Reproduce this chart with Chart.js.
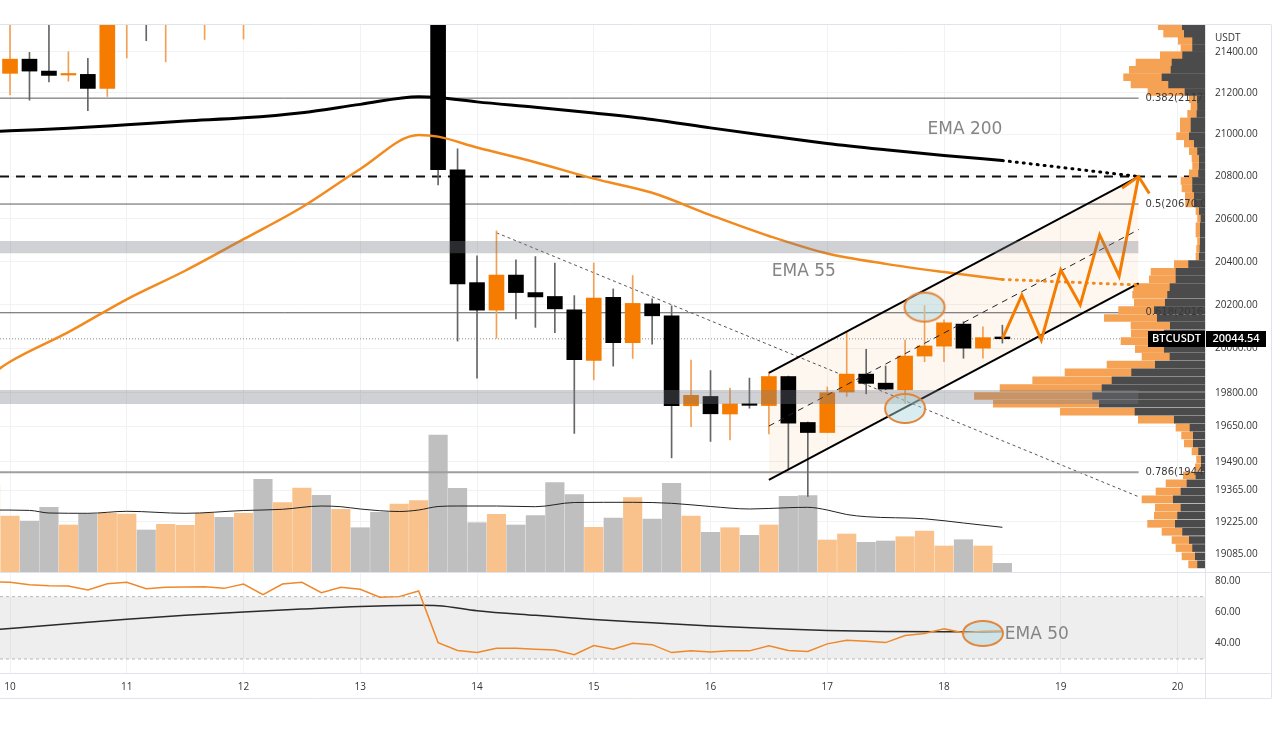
<!DOCTYPE html>
<html>
<head>
<meta charset="utf-8">
<title>BTCUSDT 4h</title>
<script src="https://cdn.jsdelivr.net/npm/chart.js@4.4.1/dist/chart.umd.min.js"></script>
<style>
  html, body { margin: 0; padding: 0; background: #fff; }
  #wrap { position: relative; width: 1280px; height: 732px; }
</style>
</head>
<body>
<div id="wrap"><canvas id="chart" width="1280" height="732"></canvas></div>
<script>
// x is in hours counted from day 10, 00:00 (4h candles)
const dayTicks = [0, 24, 48, 72, 96, 120, 144, 168, 192, 216, 240];
const dayLabels = ['10', '11', '12', '13', '14', '15', '16', '17', '18', '19', '20'];
const priceTicks = [21400, 21200, 21000, 20800, 20600, 20400, 20200, 20000, 19800, 19650, 19490, 19365, 19225, 19085];
const rsiTicks = [40, 60, 80];

const candleHours = [-4, 0, 4, 8, 12, 16, 20, 24, 28, 32, 36, 40, 44, 48, 52, 56, 60, 64, 68, 72, 76, 80, 84, 88,
  92, 96, 100, 104, 108, 112, 116, 120, 124, 128, 132, 136, 140, 144, 148, 152, 156, 160, 164, 168, 172, 176,
  180, 184, 188, 192, 196, 200, 204];
const opens = [21200, 21295, 21364, 21306, 21287, 21290, 21222, 21680, 21760, 21600, 21700, 21780, 21840, 21720,
  21860, 21640, 21820, 21990, 21760, 21900, 21820, 21700, 21840, 21920, 20832, 20303, 20176, 20338, 20257, 20239,
  20177, 19946, 20235, 20027, 20205, 20150, 19741, 19783, 19704, 19750, 19742, 19873, 19666, 19621, 19803, 19884,
  19843, 19813, 19966, 20011, 20112, 20002, 20053];
const highs = [21350, 21560, 21397, 21560, 21400, 21368, 21720, 21850, 21800, 21760, 21820, 21900, 21880, 21900,
  21900, 21880, 22050, 22020, 21950, 21940, 21850, 21880, 21960, 21950, 20932, 20427, 20544, 20409, 20424, 20394,
  20243, 20394, 20274, 20336, 20228, 20196, 19948, 19900, 19821, 19866, 19893, 19875, 19668, 19826, 20073, 19997,
  19921, 20039, 20197, 20131, 20123, 20099, 20107];
const lows = [21150, 21190, 21165, 21254, 21257, 21115, 21183, 21370, 21454, 21351, 21580, 21460, 21600, 21462,
  21560, 21600, 21780, 21700, 21720, 21780, 21640, 21660, 21800, 20760, 20034, 19866, 20047, 20136, 20097, 20073,
  19617, 19858, 19920, 19955, 20020, 19508, 19647, 19581, 19588, 19730, 19615, 19455, 19337, 19621, 19783, 19795,
  19813, 19753, 19940, 19940, 19956, 19956, 20025];
const closes = [21295, 21364, 21306, 21285, 21292, 21222, 21680, 21760, 21600, 21700, 21780, 21840, 21720, 21860,
  21640, 21820, 21990, 21760, 21900, 21820, 21700, 21840, 21920, 20832, 20297, 20176, 20338, 20257, 20237, 20182,
  19949, 20232, 20027, 20207, 20150, 19741, 19788, 19705, 19749, 19743, 19873, 19663, 19621, 19800, 19884, 19842,
  19816, 19966, 20012, 20118, 20002, 20050, 20045];
const volumes = [8700, 5600, 5100, 6470, 4700, 5770, 5870, 5800, 4200, 4770, 4670, 5870, 5470, 5870, 9270, 6930,
  8400, 7670, 6270, 4430, 5970, 6800, 7130, 13700, 8370, 4930, 5770, 4700, 5630, 8930, 7730, 4470, 5400, 7430,
  5300, 8870, 5600, 3970, 4430, 3670, 4700, 7570, 7630, 3200, 3800, 2970, 3100, 3530, 4100, 2600, 3230, 2600, 870];
const rsi = [79.5, 79.2, 77.6, 77.0, 76.8, 74.2, 78.3, 79.2, 75.1, 76.0, 76.2, 76.4, 75.3, 78.1, 71.2, 78.1, 79.2,
  72.5, 76.0, 74.7, 69.6, 70.0, 73.6, 40.5, 35.4, 34.1, 36.9, 36.9, 36.3, 35.8, 32.8, 38.6, 36.3, 40.1, 39.2, 34.1,
  35.2, 34.4, 35.2, 35.2, 38.4, 35.4, 34.8, 39.7, 42.0, 41.4, 40.5, 45.0, 46.3, 49.3, 46.9, 47.8, 47.8];

const volMaHours = [-4, 4, 8, 16, 24, 36, 48, 56, 64, 68, 72, 80, 84, 88, 92, 100, 108, 116, 128, 136, 144, 152,
  160, 164, 168, 172, 176, 188, 196, 204];
const volMa = [6200, 6160, 5900, 5870, 6070, 5870, 6150, 6270, 6600, 6530, 6300, 6050, 6200, 6550, 6600, 6600,
  6530, 6950, 6970, 6870, 6550, 6300, 6430, 6470, 6200, 5750, 5530, 5320, 4900, 4470];

const emaHours = [-4, 0, 12, 24, 36, 48, 60, 72, 84, 88, 96, 108, 120, 132, 144, 156, 168, 180, 192, 204];
const ema200 = [21013, 21018, 21030, 21047, 21065, 21080, 21105, 21145, 21182, 21178, 21157, 21131, 21103, 21072,
  21032, 20994, 20957, 20927, 20900, 20876];
const ema55 = [19880, 19940, 20075, 20226, 20358, 20505, 20655, 20836, 20998, 20990, 20938, 20868, 20790, 20723,
  20618, 20520, 20438, 20390, 20352, 20318];
const rsiEmaHours = [-4, 12, 24, 36, 48, 60, 72, 84, 88, 96, 108, 120, 132, 144, 156, 168, 180, 192, 204];
const rsiEma = [48.6, 52.6, 55.5, 58.0, 60.2, 62.0, 63.6, 64.4, 64.2, 61.0, 58.0, 55.3, 53.2, 51.2, 49.6, 48.3,
  47.6, 47.4, 47.6];

// drawings
const extHours = [204, 232];
const ema200Ext = [20876, 20800];
const ema55Ext = [20318, 20292];
const fibLevels = ['0.382', '0.5', '0.618', '0.786'];
const fibPrices = [21175, 20670, 20164, 19444];
const zoneTops = [20496, 19812];
const zoneBottoms = [20439, 19749];
const keyLevel = 20800;
const lastPrice = 20044.54;
const channelHours = [156, 232];
const channelUpper = [19890, 20800];
const channelMid = [19650, 20550];
const channelLower = [19410, 20299];
const trendHours = [100, 232];
const trendPrices = [20535, 19336];
const pathHours = [204, 208, 212, 216, 220, 224, 228, 232];
const pathPrices = [20045, 20245, 20039, 20362, 20200, 20525, 20333, 20800];
const arrowHours = [228.6, 232, 234.2];
const arrowPrices = [20745, 20800, 20720];
const markHours = [188, 184];
const markPrices = [20190, 19729];
const rsiMarkHour = 200;
const rsiMarkValue = 46.4;
const noteTexts = ['EMA 200', 'EMA 55', 'EMA 50'];
const noteHours = [188.6, 156.6, 204.5];
const noteValues = [21022, 20353, 45.4];
const noteAxes = ['y', 'y', 'yRsi'];

// visible range volume profile (rows of price), up / down volume
const profPrices = [19040, 19075, 19111, 19146, 19182, 19217, 19253, 19288, 19324, 19359, 19395, 19430, 19466,
  19501, 19537, 19572, 19608, 19643, 19679, 19714, 19750, 19785, 19821, 19856, 19892, 19927, 19963, 19998, 20034,
  20069, 20105, 20140, 20176, 20211, 20247, 20282, 20318, 20353, 20389, 20424, 20460, 20495, 20531, 20566, 20602,
  20637, 20673, 20708, 20744, 20779, 20815, 20850, 20886, 20921, 20957, 20992, 21028, 21063, 21099, 21134, 21170,
  21205, 21241, 21276, 21312, 21347, 21383, 21418, 21454, 21489, 21525];
const profDown = [74, 97, 124, 157, 224, 297, 274, 240, 317, 240, 180, 90, 37, 37, 64, 117, 117, 150, 307, 700,
  1057, 1124, 1030, 930, 734, 497, 350, 407, 457, 407, 347, 477, 507, 397, 374, 350, 290, 290, 164, 57, 50, 47, 47,
  47, 40, 57, 107, 107, 124, 124, 64, 57, 57, 74, 107, 157, 140, 140, 80, 74, 77, 200, 364, 430, 340, 330, 224, 124,
  124, 207, 227];
const profUp = [90, 133, 166, 173, 206, 277, 233, 257, 313, 250, 210, 127, 60, 47, 66, 90, 117, 140, 360, 747,
  1060, 1183, 1020, 794, 666, 483, 280, 290, 383, 330, 393, 530, 357, 310, 350, 364, 267, 250, 143, 33, 34, 27, 43,
  43, 34, 33, 87, 90, 106, 116, 93, 67, 73, 83, 100, 127, 107, 107, 94, 66, 80, 370, 376, 384, 417, 360, 223, 116,
  143, 207, 240];

// axis limits
const xMin = -2.06, xMax = 245.65;
const priceMin = 19007, priceMax = 21531;
const rsiMin = 21, rsiMax = 85.8;
const volMin = -10100, volMax = 54700;
const profMax = 12055;

const ORANGE = '#f57c00';
const isUp = closes.map((c, i) => c >= opens[i]);
const pts = (xs, ys) => xs.map((x, i) => ({ x, y: ys[i] }));
const flat = (v) => [{ x: xMin, y: v }, { x: xMax, y: v }];

function ellipseImage(rx, ry) {
  const c = document.createElement('canvas');
  c.width = rx * 2 + 4;
  c.height = ry * 2 + 4;
  const g = c.getContext('2d');
  g.beginPath();
  g.ellipse(c.width / 2, c.height / 2, rx, ry, 0, 0, Math.PI * 2);
  g.fillStyle = 'rgba(170, 214, 222, 0.45)';
  g.fill();
  g.lineWidth = 2;
  g.strokeStyle = '#e0853a';
  g.stroke();
  return c;
}

const line = (data, extra) => Object.assign({ type: 'line', data, pointRadius: 0, borderWidth: 1, fill: false }, extra);

const datasets = [
  // RSI band 70 / 30
  line(flat(70), { yAxisID: 'yRsi', borderColor: '#b5b8c0', borderDash: [3, 3], order: 12 }),
  line(flat(30), { yAxisID: 'yRsi', borderColor: '#b5b8c0', borderDash: [3, 3], order: 12,
    fill: '-1', backgroundColor: 'rgba(120, 123, 134, 0.13)' }),
  // channel fill
  line(pts(channelHours, channelUpper), { borderWidth: 0, order: 11 }),
  line(pts(channelHours, channelLower), { borderWidth: 0, order: 11, fill: '-1', backgroundColor: 'rgba(245, 124, 0, 0.06)' }),
  // volume
  {
    type: 'bar', yAxisID: 'yVol', grouped: false, barThickness: 18.5, order: 10,
    data: pts(candleHours, volumes),
    backgroundColor: isUp.map(u => u ? '#f9c28c' : '#bfbfbf')
  },
  line(pts(volMaHours, volMa), { yAxisID: 'yVol', borderColor: '#222', cubicInterpolationMode: 'monotone', order: 9 }),
  // fibonacci levels, key level, last price, trend line
  ...fibPrices.map((p, i) => line(pts([xMin, 232], [p, p]), {
    borderColor: i === 3 ? '#9e9e9e' : '#5c5c5c', borderWidth: i === 3 ? 2 : 1, order: 8
  })),
  line(flat(keyLevel), { borderColor: '#111', borderWidth: 2, borderDash: [9, 7], order: 8 }),
  line(flat(lastPrice), { borderColor: '#8a8a8a', borderDash: [1, 2], order: 8 }),
  line(pts(trendHours, trendPrices), { borderColor: '#555', borderDash: [3, 3], order: 8 }),
  // candles
  {
    type: 'bar', grouped: false, barThickness: 1, order: 7,
    data: candleHours.map((h, i) => ({ x: h, y: [lows[i], highs[i]] })),
    backgroundColor: isUp.map(u => u ? '#f2a055' : '#666')
  },
  {
    type: 'bar', grouped: false, barThickness: 15, minBarLength: 1.5, order: 6,
    data: candleHours.map((h, i) => ({ x: h, y: [opens[i], closes[i]] })),
    backgroundColor: isUp.map(u => u ? ORANGE : '#000')
  },
  // volume profile
  {
    type: 'bar', indexAxis: 'y', xAxisID: 'xProf', yAxisID: 'y', grouped: false, barThickness: 7, order: 5,
    data: profPrices.map((p, i) => ({ y: p, x: [0, profDown[i]] })),
    backgroundColor: '#4b4b4b'
  },
  {
    type: 'bar', indexAxis: 'y', xAxisID: 'xProf', yAxisID: 'y', grouped: false, barThickness: 7, order: 5,
    data: profPrices.map((p, i) => ({ y: p, x: [profDown[i], profDown[i] + profUp[i]] })),
    backgroundColor: '#f5a254'
  },
  // EMAs
  line(pts(emaHours, ema200), { borderColor: '#000', borderWidth: 3, cubicInterpolationMode: 'monotone', order: 4 }),
  line(pts(emaHours, ema55), { borderColor: '#f28a1e', borderWidth: 2.5, cubicInterpolationMode: 'monotone', order: 4 }),
  line(pts(rsiEmaHours, rsiEma), { yAxisID: 'yRsi', borderColor: '#2a2a2a', borderWidth: 1.5, cubicInterpolationMode: 'monotone', order: 4 }),
  line(pts(candleHours, rsi), { yAxisID: 'yRsi', borderColor: '#f0882a', borderWidth: 1.5, order: 3 }),
  // projections
  line(pts(extHours, ema200Ext), { borderColor: '#000', borderWidth: 3, borderDash: [1, 6], borderCapStyle: 'round', order: 3 }),
  line(pts(extHours, ema55Ext), { borderColor: '#f28a1e', borderWidth: 3, borderDash: [1, 6], borderCapStyle: 'round', order: 3 }),
  line(pts(channelHours, channelUpper), { borderColor: '#000', borderWidth: 2, order: 3 }),
  line(pts(channelHours, channelLower), { borderColor: '#000', borderWidth: 2, order: 3 }),
  line(pts(channelHours, channelMid), { borderColor: '#222', borderWidth: 1, borderDash: [6, 5], order: 3 }),
  line(pts(pathHours, pathPrices), { borderColor: ORANGE, borderWidth: 3, order: 2 }),
  line(pts(arrowHours, arrowPrices), { borderColor: ORANGE, borderWidth: 3, order: 2 }),
  // support / resistance zones
  ...zoneTops.flatMap((t, i) => [
    line(pts([xMin, 232], [t, t]), { borderWidth: 0, order: 1 }),
    line(pts([xMin, 232], [zoneBottoms[i], zoneBottoms[i]]), { borderWidth: 0, order: 1,
      fill: '-1', backgroundColor: 'rgba(120, 123, 134, 0.35)' })
  ]),
  // circled spots
  line(pts(markHours, markPrices), { showLine: false, pointRadius: 10, pointStyle: ellipseImage(20, 14.5), order: 0 }),
  line([{ x: rsiMarkHour, y: rsiMarkValue }], { yAxisID: 'yRsi', showLine: false, pointRadius: 10,
    pointStyle: ellipseImage(20, 12.5), order: 0 })
];

const overlay = {
  id: 'overlay',
  afterDatasetsDraw(chart) {
    const { ctx, chartArea: a, scales } = chart;
    ctx.save();
    ctx.beginPath();
    ctx.rect(a.left, a.top, a.right - a.left, a.bottom - a.top);
    ctx.clip();
    ctx.textAlign = 'left';
    ctx.textBaseline = 'middle';
    ctx.font = '10px "DejaVu Sans"';
    ctx.fillStyle = '#3a3a3a';
    fibPrices.forEach((p, i) => {
      ctx.fillText(fibLevels[i] + '(' + p.toFixed(2) + ')', scales.x.getPixelForValue(233.4), scales.y.getPixelForValue(p));
    });
    ctx.font = '17px "DejaVu Sans"';
    ctx.fillStyle = '#858585';
    noteTexts.forEach((t, i) => {
      ctx.fillText(t, scales.x.getPixelForValue(noteHours[i]), scales[noteAxes[i]].getPixelForValue(noteValues[i]));
    });
    ctx.restore();
  },
  afterDraw(chart) {
    const { ctx, chartArea: a, scales } = chart;
    const outerRight = a.right + 66;
    const axisBottom = a.bottom + 25;
    ctx.save();
    ctx.strokeStyle = '#e0e3eb';
    ctx.lineWidth = 1;
    ctx.beginPath();
    [a.top - 0.5, scales.y.bottom + 0.5, a.bottom + 0.5, axisBottom + 0.5].forEach(y => {
      ctx.moveTo(0, y);
      ctx.lineTo(outerRight, y);
    });
    [a.right + 0.5, outerRight + 0.5].forEach(x => {
      ctx.moveTo(x, a.top - 0.5);
      ctx.lineTo(x, axisBottom + 0.5);
    });
    ctx.stroke();

    ctx.fillStyle = '#333';
    ctx.font = '10px "Open Sans"';
    ctx.textBaseline = 'middle';
    ctx.fillText('USDT', a.right + 10, a.top + 13);

    const py = Math.round(scales.y.getPixelForValue(lastPrice));
    ctx.fillStyle = '#000';
    ctx.fillRect(a.right - 57, py - 8, 57, 16);
    ctx.fillRect(a.right + 1, py - 8, 60, 16);
    ctx.fillStyle = '#fff';
    ctx.font = '600 11px "Open Sans"';
    ctx.textAlign = 'center';
    ctx.fillText('BTCUSDT', a.right - 28.5, py);
    ctx.fillText(lastPrice.toFixed(2), a.right + 31, py);
    ctx.restore();
  }
};

const tickFont = { family: '"Open Sans", sans-serif', size: 10 };

new Chart(document.getElementById('chart'), {
  type: 'line',
  data: { datasets },
  options: {
    responsive: false,
    animation: false,
    events: [],
    layout: { autoPadding: false, padding: { left: 0, right: 10, top: 25, bottom: 32 } },
    plugins: { legend: { display: false }, tooltip: { enabled: false } },
    scales: {
      x: {
        type: 'linear', position: 'bottom', min: xMin, max: xMax, bounds: 'data', offset: false,
        grid: { color: '#f1f2f5', offset: false, drawTicks: false },
        border: { display: false },
        afterBuildTicks: (s) => { s.ticks = dayTicks.map(v => ({ value: v })); },
        afterFit: (s) => { s.height = 27; s.paddingLeft = 0; s.paddingRight = 0; },
        ticks: {
          autoSkip: false, maxRotation: 0, padding: 8, color: '#333', font: tickFont,
          callback: (v) => dayLabels[dayTicks.indexOf(v)]
        }
      },
      y: {
        type: 'logarithmic', position: 'right', stack: 'panes', stackWeight: 547,
        min: priceMin, max: priceMax, bounds: 'data', offset: false,
        grid: { color: '#f1f2f5', offset: false, drawTicks: false },
        border: { display: false },
        afterBuildTicks: (s) => { s.ticks = priceTicks.map(v => ({ value: v })); },
        afterFit: (s) => { s.width = 65; },
        ticks: { autoSkip: false, padding: 10, color: '#333', font: tickFont, callback: (v) => Number(v).toFixed(2) }
      },
      yRsi: {
        type: 'linear', position: 'right', stack: 'panes', stackWeight: 101,
        min: rsiMin, max: rsiMax, bounds: 'data', offset: false,
        grid: { display: false, drawTicks: false },
        border: { display: false },
        afterBuildTicks: (s) => { s.ticks = rsiTicks.map(v => ({ value: v })); },
        afterFit: (s) => { s.width = 65; },
        ticks: { autoSkip: false, padding: 10, color: '#333', font: tickFont, callback: (v) => Number(v).toFixed(2) }
      },
      yVol: {
        type: 'linear', position: 'left', display: false, min: volMin, max: volMax, offset: false
      },
      xProf: {
        type: 'linear', position: 'top', display: false, reverse: true, min: 0, max: profMax, offset: false
      }
    }
  },
  plugins: [overlay]
});
</script>
</body>
</html>
